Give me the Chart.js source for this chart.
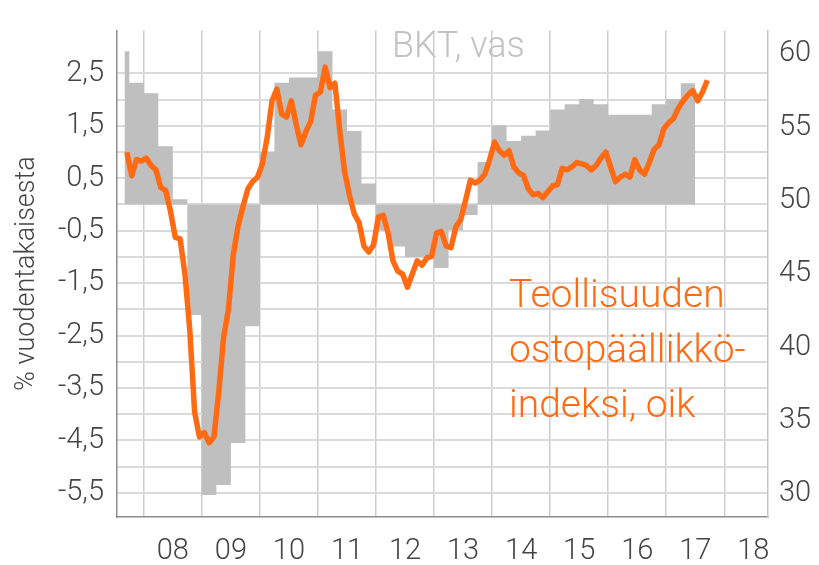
<!DOCTYPE html>
<html>
<head>
<meta charset="utf-8">
<script src="https://cdn.jsdelivr.net/npm/chart.js@4.4.1/dist/chart.umd.min.js"></script>
<style>
  html, body { margin: 0; padding: 0; background: #fff; }
</style>
</head>
<body>
<canvas id="pmiChart" width="819" height="565"></canvas>
<script>
  // Year labels on the x axis (centred inside each year)
  const yearLabels = ['08', '09', '10', '11', '12', '13', '14', '15', '16', '17', '18'];

  // GDP, % y/y, quarterly (first quarter only partly shown)
  const gdpStart = '2007Q3';
  const gdp = [
    2.92, 2.32,
    2.12, 1.11, 0.10, -2.11,
    -5.54, -5.35, -4.55, -2.32,
    1.00, 2.32, 2.42, 2.42,
    2.92, 1.81, 1.40, 0.40,
    -0.50, -0.80, -1.00, -1.00,
    -1.21, -0.49, -0.20, 0.81,
    1.51, 1.21, 1.31, 1.41,
    1.81, 1.91, 2.01, 1.91,
    1.71, 1.71, 1.71, 1.91,
    2.01, 2.31
  ];

  // Manufacturing PMI, monthly
  const pmiStart = '2007-09';
  const pmi = [
    53.3, 51.7, 52.8, 52.7,
    52.9, 52.4, 52.1, 50.9, 50.7, 49.3, 47.5, 47.4, 45.0, 41.2, 35.6, 33.9,
    34.2, 33.5, 33.9, 37.0, 40.7, 42.6, 46.3, 48.3, 49.6, 50.8, 51.3, 51.6,
    52.5, 54.3, 56.8, 57.6, 55.9, 55.7, 56.8, 55.2, 53.8, 54.7, 55.4, 57.2,
    57.4, 59.1, 57.7, 58.0, 54.8, 52.0, 50.4, 49.1, 48.5, 46.9, 46.5, 47.0,
    48.9, 49.0, 47.8, 45.9, 45.2, 45.0, 44.1, 45.0, 45.9, 45.6, 46.1, 46.2,
    47.8, 47.9, 46.9, 46.8, 48.2, 48.7, 50.0, 51.4, 51.2, 51.4, 51.8, 52.8,
    54.0, 53.4, 53.1, 53.4, 52.3, 51.9, 51.7, 50.8, 50.4, 50.5, 50.2, 50.6,
    51.0, 51.1, 52.2, 52.1, 52.3, 52.6, 52.5, 52.4, 52.1, 52.4, 52.9, 53.3,
    52.3, 51.3, 51.6, 51.8, 51.6, 52.8, 52.1, 51.8, 52.6, 53.5, 53.8, 54.9,
    55.3, 55.6, 56.3, 56.8, 57.2, 57.5, 56.8, 57.4, 58.2
  ];

  // Axis ticks
  const leftTicks = [2.5, 1.5, 0.5, -0.5, -1.5, -2.5, -3.5, -4.5, -5.5];
  const rightTicks = [30, 35, 40, 45, 50, 55, 60];

  const orange = '#ff6a13';
  const grey = '#bfbfbf';
  const textColor = '#454545';
  const fontFamily = 'Roboto, "Noto Sans", sans-serif';

  // build points
  const [py, pm] = pmiStart.split('-').map(Number);
  const firstMonthX = py + (pm - 1) / 12;
  const pmiPoints = pmi.map((v, i) => ({ x: py + (pm - 1 + i + 0.5) / 12, y: v }));

  const gy = Number(gdpStart.slice(0, 4));
  const gq = Number(gdpStart.slice(5));
  const gdpPoints = gdp.map((v, i) => {
    const start = gy + (gq - 1 + i) / 4;
    return { x: Math.max(start, firstMonthX), y: v };
  });
  gdpPoints.push({ x: gy + (gq - 1 + gdp.length) / 4, y: gdp[gdp.length - 1] });

  // grid every half unit on the left axis
  const leftGrid = [];
  for (let v = -5.5; v <= 2.5; v += 0.5) leftGrid.push(v);

  const xTicks = [];
  yearLabels.forEach((l, i) => { xTicks.push(2008 + i, 2008.5 + i); });

  const notes = {
    id: 'notes',
    afterDatasetsDraw(chart) {
      const c = chart.ctx;
      c.save();
      c.textBaseline = 'alphabetic';
      c.textAlign = 'left';
      c.font = '300 36px ' + fontFamily;
      c.fillStyle = '#c2c2c2';
      c.fillText('BKT, vas', 392, 57);
      c.font = '300 39px ' + fontFamily;
      c.fillStyle = orange;
      ['Teollisuuden', 'ostopäällikkö-', 'indeksi, oik'].forEach((t, i) => {
        c.fillText(t, 509, 307 + i * 55);
      });
      c.restore();
    }
  };

  const ctx = document.getElementById('pmiChart').getContext('2d');

  const pmiChart = new Chart(ctx, {
    type: 'line',
    data: {
      datasets: [
        {
          label: 'Teollisuuden ostopäällikköindeksi, oik',
          data: pmiPoints,
          yAxisID: 'y2',
          borderColor: orange,
          borderWidth: 5.5,
          borderJoinStyle: 'round',
          pointRadius: 0,
          tension: 0,
          fill: false,
          order: 0
        },
        {
          label: 'BKT, vas',
          data: gdpPoints,
          yAxisID: 'y',
          stepped: 'before',
          borderWidth: 0,
          borderColor: grey,
          backgroundColor: grey,
          pointRadius: 0,
          fill: 'origin',
          order: 1
        }
      ]
    },
    options: {
      responsive: false,
      animation: false,
      layout: { padding: { top: 8, left: 0, right: 0, bottom: 0 } },
      plugins: {
        legend: { display: false },
        tooltip: { enabled: false }
      },
      scales: {
        x: {
          type: 'linear',
          min: 2007.538,
          max: 2018.753,
          afterBuildTicks: s => { s.ticks = xTicks.map(v => ({ value: v })); },
          afterFit: s => { s.height = 48; },
          grid: {
            drawTicks: false,
            lineWidth: 1.5,
            color: c => (c.tick && Number.isInteger(c.tick.value)) ? '#cdcdcd' : 'rgba(0,0,0,0)'
          },
          border: { color: '#8c8c8c', width: 1.5 },
          ticks: {
            autoSkip: false,
            maxRotation: 0,
            padding: 17,
            color: textColor,
            font: { family: fontFamily, size: 29, weight: 300 },
            callback: v => Number.isInteger(v) ? '' : yearLabels[Math.floor(v) - 2008]
          }
        },
        y: {
          position: 'left',
          min: -5.96,
          max: 3.32,
          afterBuildTicks: s => { s.ticks = leftGrid.map(v => ({ value: v })); },
          afterFit: s => { s.width = 117; },
          grid: { drawTicks: false, color: '#dadada', lineWidth: 2 },
          border: { color: '#8c8c8c', width: 1.5 },
          title: {
            display: true,
            text: '% vuodentakaisesta',
            color: textColor,
            font: { family: fontFamily, size: 27, weight: 300 },
            padding: { top: 11, bottom: 0 }
          },
          ticks: {
            autoSkip: false,
            padding: 13,
            color: textColor,
            font: { family: fontFamily, size: 29, weight: 300 },
            callback: v => leftTicks.includes(v) ? v.toFixed(1).replace('.', ',') : ''
          }
        },
        y2: {
          position: 'right',
          min: 28.45,
          max: 61.6,
          afterBuildTicks: s => { s.ticks = rightTicks.map(v => ({ value: v })); },
          afterFit: s => { s.width = 51; },
          grid: { display: false, drawTicks: false },
          border: { color: '#c4c4c4', width: 1.5 },
          ticks: {
            autoSkip: false,
            padding: 11,
            color: textColor,
            font: { family: fontFamily, size: 29, weight: 300 }
          }
        }
      }
    },
    plugins: [notes]
  });
</script>
</body>
</html>
